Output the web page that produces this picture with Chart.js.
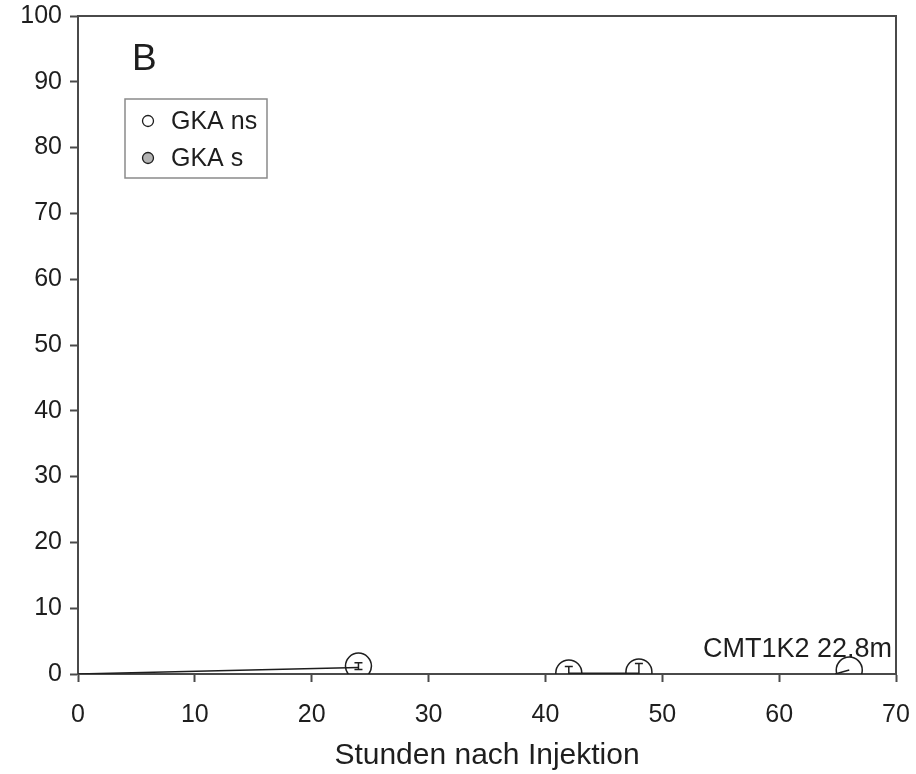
<!DOCTYPE html>
<html>
<head>
<meta charset="utf-8">
<script src="https://cdn.jsdelivr.net/npm/chart.js@4"></script>
<style>
  body { margin: 0; background: #fff; }
  #wrap { width: 916px; height: 774px; }
</style>
</head>
<body>
<div id="wrap"><canvas id="chart" width="916" height="774"></canvas></div>
<script>
// ----------------------------------------------------------------------
//  data
// ----------------------------------------------------------------------
const hours    = [24, 42, 48, 66]
const gkaNs    = [1.2, 0.15, 0.3, 0.6]
const gkaNsErr = [0.5, 1.0, 1.3, 0]
const gkaS     = []

// connecting line pieces (null = gap)
const lineX = [0, 24, null, 42, 48, null, 64.8, 66]
const lineY = [0, 1.0, null, 0.1, 0.1, null, 0, 0.6]

const xTicks = [0, 10, 20, 30, 40, 50, 60, 70]
const yTicks = [0, 10, 20, 30, 40, 50, 60, 70, 80, 90, 100]

const panelLabel = "B"
const noteLabel  = "CMT1K2 22.8m"
const xTitle     = "Stunden nach Injektion"

const FONT = "'Liberation Sans', Arial, sans-serif"
const INK  = "#1e1e1e"
const AXIS = "#4a4a4a"

// ----------------------------------------------------------------------
const lineData = lineX.map((x, i) => x === null ? {x: 30, y: null} : {x: x, y: lineY[i]})

const extras = {
    id: 'extras',
    afterDatasetsDraw (chart)
    {
        const {ctx, chartArea: a, scales: {x, y}} = chart
        // error bars
        ctx.save()
        ctx.beginPath()
        ctx.rect(a.left, a.top, a.right - a.left, a.bottom - a.top)
        ctx.clip()
        ctx.strokeStyle = INK
        ctx.lineWidth = 1.5
        hours.forEach((h, i) => {
            const e = gkaNsErr[i]
            if (!e) return
            const px = x.getPixelForValue(h)
            const top = y.getPixelForValue(gkaNs[i] + e)
            const bot = y.getPixelForValue(gkaNs[i] - e)
            ctx.beginPath()
            ctx.moveTo(px, top); ctx.lineTo(px, bot)
            ctx.moveTo(px - 4, top); ctx.lineTo(px + 4, top)
            ctx.moveTo(px - 4, bot); ctx.lineTo(px + 4, bot)
            ctx.stroke()
        })
        ctx.restore()
    },
    afterDraw (chart)
    {
        const {ctx, chartArea: a} = chart
        ctx.save()
        // top and right frame
        ctx.strokeStyle = AXIS
        ctx.lineWidth = 2
        ctx.beginPath()
        ctx.moveTo(a.left, a.top); ctx.lineTo(a.right, a.top); ctx.lineTo(a.right, a.bottom)
        ctx.stroke()

        ctx.fillStyle = INK
        ctx.textBaseline = 'alphabetic'
        ctx.font = "37px " + FONT
        ctx.fillText(panelLabel, 132, 70)

        ctx.font = "27px " + FONT
        ctx.textAlign = 'right'
        ctx.fillText(noteLabel, a.right - 4, 657)

        // legend box
        ctx.textAlign = 'left'
        ctx.strokeStyle = "#8a8a8a"
        ctx.lineWidth = 1.5
        ctx.strokeRect(125, 99, 142, 79)
        ctx.font = "25px " + FONT
        ctx.textBaseline = 'middle'
        const items = chart.data.datasets.filter(d => d.legend)
        items.forEach((d, i) => {
            const cy = 121 + i * 37
            ctx.beginPath()
            ctx.arc(148, cy, 5.5, 0, Math.PI * 2)
            ctx.fillStyle = d.pointBackgroundColor
            ctx.fill()
            ctx.strokeStyle = INK
            ctx.lineWidth = 1.3
            ctx.stroke()
            ctx.fillStyle = INK
            ctx.fillText(d.label, 171, cy + 1)
        })
        ctx.restore()
    }
}

const config = {
    type: 'scatter',
    data: {
        datasets: [
            {
            label: 'line',
            type: 'line',
            data: lineData,
            borderColor: INK,
            borderWidth: 1.5,
            pointRadius: 0,
            spanGaps: false,
            clip: 0
            },
            {
            label: 'GKA ns',
            legend: true,
            data: hours.map((h, i) => ({x: h, y: gkaNs[i]})),
            pointRadius: 13,
            pointBackgroundColor: 'rgba(255,255,255,0)',
            pointBorderColor: INK,
            pointBorderWidth: 1.5,
            clip: 0
            },
            {
            label: 'GKA s',
            legend: true,
            data: gkaS,
            pointRadius: 13,
            pointBackgroundColor: '#b4b4b4',
            pointBorderColor: INK,
            clip: 0
            }
        ]
    },
    options: {
        responsive: false,
        animation: false,
        layout: { padding: { top: 16, right: 20, left: 0, bottom: 0 } },
        plugins: { legend: { display: false }, tooltip: { enabled: false } },
        scales: {
            x: {
                type: 'linear',
                min: 0, max: 70,
                afterBuildTicks: s => { s.ticks = xTicks.map(v => ({value: v})) },
                afterFit: s => { s.height = 100; s.paddingLeft = 0; s.paddingRight = 0 },
                grid: { drawOnChartArea: false, tickLength: 8, tickColor: AXIS, tickWidth: 2 },
                border: { color: AXIS, width: 2 },
                ticks: { color: INK, font: { family: FONT, size: 25 }, padding: 18, maxRotation: 0 },
                title: { display: true, text: xTitle, color: INK,
                         font: { family: FONT, size: 30 }, padding: { top: 0, bottom: 0 } }
            },
            y: {
                min: 0, max: 100,
                afterBuildTicks: s => { s.ticks = yTicks.map(v => ({value: v})) },
                afterFit: s => { s.width = 78; s.paddingTop = 0; s.paddingBottom = 0 },
                grid: { drawOnChartArea: false, tickLength: 8, tickColor: AXIS, tickWidth: 2 },
                border: { color: AXIS, width: 2 },
                ticks: { color: INK, font: { family: FONT, size: 25 }, padding: 8 }
            }
        }
    },
    plugins: [extras]
}

const chart = new Chart(document.getElementById('chart'), config)
</script>
</body>
</html>
